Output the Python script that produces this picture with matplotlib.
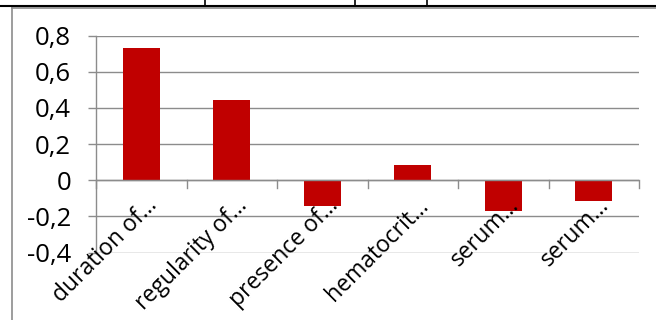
import matplotlib
matplotlib.use("Agg")
import matplotlib.pyplot as plt
from matplotlib.lines import Line2D
from matplotlib.ticker import FuncFormatter, FixedLocator

categories = ["duration of…", "regularity of…", "presence of…", "hematocrit…", "serum…", "serum…"]
values = [0.732, 0.443, -0.142, 0.085, -0.17, -0.115]
yticks = [-0.4, -0.2, 0, 0.2, 0.4, 0.6, 0.8]

W, H = 656, 320
fig = plt.figure(figsize=(W/100, H/100), dpi=100)
fig.patch.set_facecolor("white")

def fx(px): return px / W
def fy(py): return 1 - py / H

ax = fig.add_axes([fx(96), fy(252.5), fx(639) - fx(96), fy(35.7) - fy(252.5)])
n = len(categories)
xs = list(range(n))
ax.bar(xs, values, width=0.41, color="#C00000", zorder=3)
ax.set_xlim(-0.5, n - 0.5)
ax.set_ylim(-0.4, 0.8)
ax.yaxis.set_major_locator(FixedLocator(yticks))
ax.yaxis.set_major_formatter(FuncFormatter(lambda v, p: ("%g" % round(v, 1)).replace(".", ",")))
ax.grid(axis="y", color="#8c8c8c", linewidth=1.0, zorder=0)
for s in ["top", "right", "bottom"]:
    ax.spines[s].set_visible(False)
ax.spines["left"].set_color("#8c8c8c")
ax.spines["left"].set_linewidth(1.0)
ax.tick_params(axis="y", length=6, width=1.0, color="#8c8c8c", pad=12, labelsize=18.5)
ax.set_xticks([])
fam = ["Open Sans", "Lato", "DejaVu Sans"]
for lab in ax.get_yticklabels():
    lab.set_fontfamily(fam)

# zero axis line with category tick marks
ax.axhline(0, color="#8c8c8c", linewidth=1.0, zorder=4)
for k in range(n + 1):
    ax.plot([k - 0.5, k - 0.5], [0, -0.044], color="#8c8c8c", linewidth=1.0, zorder=4, clip_on=False)

# rotated category labels
for x, c in zip(xs, categories):
    ax.text(x + 0.04, -0.075, c, rotation=45, ha="right", va="top", rotation_mode="anchor",
            fontsize=16.5, family=fam, color="black", zorder=5)

# chart frame and table borders
fig.add_artist(Line2D([fx(12), fx(12)], [fy(8), fy(320)], color="#8c8c8c", linewidth=1.2))
fig.add_artist(Line2D([fx(12), fx(656)], [fy(8), fy(8)], color="#8c8c8c", linewidth=1.2))
fig.add_artist(Line2D([0, 1], [fy(6), fy(6)], color="black", linewidth=1.5))
for px in [205, 355, 427]:
    fig.add_artist(Line2D([fx(px), fx(px)], [1, fy(6)], color="black", linewidth=1.2))
fig.text(fx(12), fy(-2), "(mg/dl)", ha="left", va="bottom", fontsize=11, family="Liberation Serif", weight="bold")

fig.savefig("out.png", dpi=100)
